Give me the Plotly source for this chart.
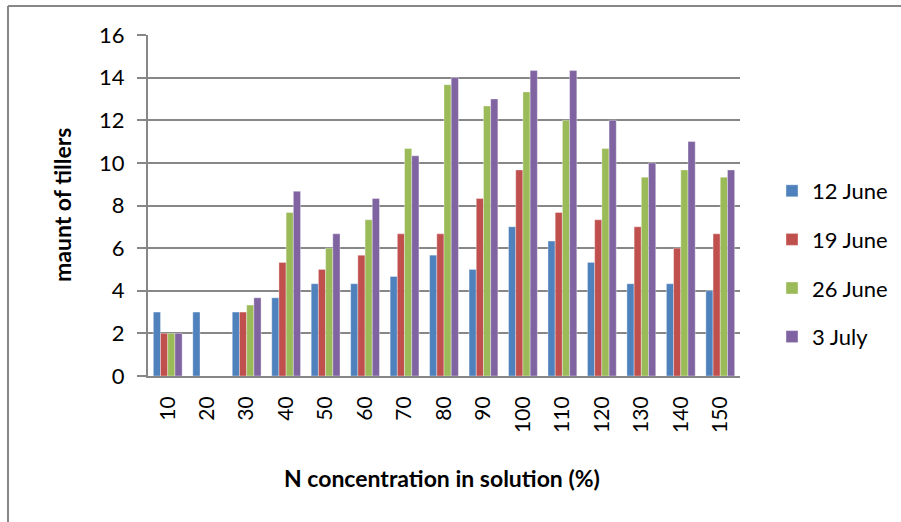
import plotly.graph_objects as go

categories = ["10", "20", "30", "40", "50", "60", "70", "80", "90", "100", "110", "120", "130", "140", "150"]
june12 = [3, 3, 3, 3.67, 4.33, 4.33, 4.67, 5.67, 5, 7, 6.33, 5.33, 4.33, 4.33, 4]
june19 = [2, 0, 3, 5.33, 5, 5.67, 6.67, 6.67, 8.33, 9.67, 7.67, 7.33, 7, 6, 6.67]
june26 = [2, 0, 3.33, 7.67, 6, 7.33, 10.67, 13.67, 12.67, 13.33, 12, 10.67, 9.33, 9.67, 9.33]
july3 = [2, 0, 3.67, 8.67, 6.67, 8.33, 10.33, 14, 13, 14.33, 14.33, 12, 10, 11, 9.67]

series_names = ["12 June", "19 June", "26 June", "3 July"]
series_values = [june12, june19, june26, july3]
colors = ["#4F81BD", "#C0504D", "#9BBB59", "#8064A2"]

FONT = "Lato, Carlito, Calibri, 'Open Sans', sans-serif"

fig = go.Figure()
for i, (name, vals, col) in enumerate(zip(series_names, series_values, colors)):
    fig.add_trace(go.Bar(
        x=categories, y=vals, name=name, legendgroup=name,
        marker=dict(color=col, line=dict(width=0.6, color="rgba(255,255,255,0.6)")),
    ))

fig.update_layout(
    width=901, height=522,
    margin=dict(l=148, r=161, t=35, b=146, autoexpand=False),
    paper_bgcolor="white", plot_bgcolor="white",
    barmode="group", bargap=0.27, bargroupgap=0,
    font=dict(family=FONT, size=21, color="black"),
    showlegend=True,
    legend=dict(
        xref="container", yref="container",
        x=772 / 901, y=1 - 264 / 522, xanchor="left", yanchor="middle",
        font=dict(family=FONT, size=22, color="black"),
        tracegroupgap=17, itemwidth=30,
    ),
    xaxis=dict(
        type="category", tickangle=-90,
        showline=True, linecolor="#878787", linewidth=2,
        ticks="outside", ticklen=10, tickcolor="rgba(0,0,0,0)",
        tickfont=dict(family=FONT, size=21),
        showgrid=False,
    ),
    yaxis=dict(
        range=[0, 16], tickvals=[0, 2, 4, 6, 8, 10, 12, 14, 16],
        showline=True, linecolor="#878787", linewidth=2,
        ticks="outside", ticklen=9, tickcolor="#878787", tickwidth=2,
        ticklabelstandoff=8,
        showgrid=True, gridcolor="#878787", gridwidth=2,
        tickfont=dict(family=FONT, size=22),
        zeroline=False,
    ),
)

fig.add_annotation(
    text="<b>N concentration in solution (%)</b>", xref="paper", yref="paper",
    x=(442 - 148) / 592, y=-(478 - 376) / 341, xanchor="center", yanchor="middle",
    showarrow=False, font=dict(family=FONT, size=23, color="black"),
)
fig.add_annotation(
    text="<b>maunt of tillers</b>", xref="paper", yref="paper",
    x=(62 - 148) / 592, y=(376 - 205) / 341, xanchor="center", yanchor="middle",
    textangle=-90, showarrow=False, font=dict(family=FONT, size=23, color="black"),
)

# outer chart border (top and left visible)
fig.add_shape(type="line", xref="paper", yref="paper",
              x0=(8 - 148) / 592, x1=(905 - 148) / 592,
              y0=(376 - 6) / 341, y1=(376 - 6) / 341,
              line=dict(color="#878787", width=2))
fig.add_shape(type="line", xref="paper", yref="paper",
              x0=(8 - 148) / 592, x1=(8 - 148) / 592,
              y0=(376 - 6) / 341, y1=(376 - 530) / 341,
              line=dict(color="#878787", width=2))

fig.write_html("out.html")
